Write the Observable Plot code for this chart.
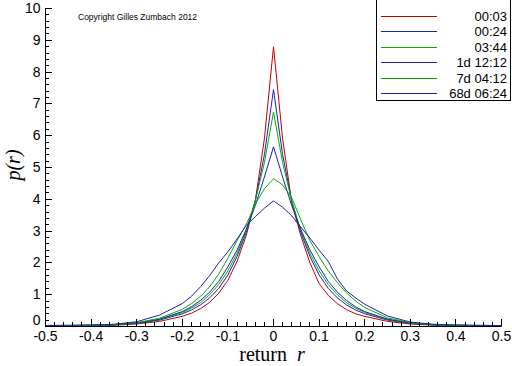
<!DOCTYPE html>
<html><head><meta charset="utf-8">
<script src="https://cdn.jsdelivr.net/npm/d3@7"></script>
<script src="https://cdn.jsdelivr.net/npm/@observablehq/plot@0.6"></script>
<style>body{margin:0;background:#fff}</style>
</head><body><div id="chart"></div>
<script>
const returns = [-0.5,-0.45,-0.4,-0.35,-0.3,-0.25,-0.2,-0.18,-0.16,-0.14,-0.12,-0.1,-0.08,-0.06,-0.04,-0.02,0,0.02,0.04,0.06,0.08,0.1,0.12,0.14,0.16,0.18,0.2,0.25,0.3,0.35,0.4,0.45,0.5];
const seriesNames = ["00:03","00:24","03:44","1d 12:12","7d 04:12","68d 06:24"];
const seriesColors = ["#c00000","#2020b0","#00b000","#2020b0","#00b000","#2020b0"];
const p_0003 = [0.01,0.01,0.02,0.04,0.08,0.16,0.32,0.42,0.56,0.76,1.05,1.45,2.05,2.85,3.95,5.9,8.8,5.9,3.9,2.85,2.0,1.35,0.98,0.72,0.53,0.4,0.32,0.16,0.08,0.04,0.02,0.01,0.01];
const p_0024 = [0.01,0.02,0.03,0.05,0.1,0.2,0.4,0.52,0.68,0.9,1.2,1.62,2.2,2.95,3.95,5.4,7.45,5.4,3.95,2.95,2.2,1.62,1.2,0.9,0.68,0.52,0.4,0.2,0.1,0.05,0.03,0.02,0.01];
const p_0344 = [0.01,0.02,0.03,0.05,0.11,0.22,0.44,0.58,0.75,1.0,1.32,1.75,2.3,3.0,3.95,5.15,6.75,5.15,3.95,3.0,2.3,1.75,1.32,1.0,0.75,0.58,0.44,0.22,0.11,0.05,0.03,0.02,0.01];
const p_1d = [0.02,0.02,0.04,0.06,0.11,0.23,0.47,0.62,0.82,1.08,1.42,1.88,2.4,3.05,3.8,4.7,5.65,4.7,3.8,3.05,2.4,1.88,1.42,1.08,0.82,0.62,0.47,0.23,0.11,0.06,0.04,0.02,0.02];
const p_7d = [0.02,0.03,0.04,0.06,0.12,0.26,0.54,0.72,0.95,1.25,1.65,2.15,2.7,3.2,3.85,4.33,4.65,4.45,4.05,3.35,2.7,2.2,1.75,1.38,1.06,0.8,0.6,0.27,0.12,0.06,0.04,0.03,0.02];
const p_68d = [0.03,0.04,0.05,0.07,0.15,0.36,0.72,0.95,1.25,1.6,2.0,2.35,2.75,3.18,3.45,3.72,3.95,3.75,3.48,3.12,2.78,2.4,2.05,1.5,1.12,0.9,0.7,0.33,0.14,0.07,0.05,0.04,0.03];
const seriesValues = [p_0003,p_0024,p_0344,p_1d,p_7d,p_68d];
const xMajorTicks = [-0.5,-0.4,-0.3,-0.2,-0.1,0,0.1,0.2,0.3,0.4,0.5];
const yMajorTicks = [0,1,2,3,4,5,6,7,8,9,10];
const xMinorTicks = d3.range(-50,51,2).map(d=>d/100);
const yMinorTicks = d3.range(0,51,1).map(d=>d/5);
const copyright = "Copyright Gilles Zumbach 2012";

const rows = [];
seriesNames.forEach((s,i)=>returns.forEach((r,j)=>rows.push({series:s,r,p:seriesValues[i][j]})));

const fmt = d => d===0 ? "0" : (d<0?"-":"") + Math.abs(d).toFixed(1);

const chart = Plot.plot({
  width:512, height:366,
  marginLeft:45, marginRight:11, marginTop:8, marginBottom:40,
  style:{fontFamily:"'Liberation Sans', Arial, sans-serif", background:"#fff", color:"#000"},
  x:{domain:[-0.5,0.5], axis:null},
  y:{domain:[0,10], axis:null},
  color:{domain:seriesNames, range:seriesColors},
  marks:[
    Plot.axisX({ticks:xMajorTicks, tickSize:0, tickPadding:5, tickFormat:fmt, fontSize:14, label:null}),
    Plot.axisY({ticks:yMajorTicks.filter(d=>d!==0), tickSize:0, tickPadding:5, fontSize:14, label:null}),
    Plot.axisY({ticks:[0], tickSize:0, tickPadding:5, dy:-6, fontSize:14, label:null}),
    ...seriesNames.map(s=>Plot.line(rows.filter(d=>d.series===s), {x:"r", y:"p", stroke:"series", strokeWidth:1, curve:"linear"})),
    Plot.ruleY([0], {stroke:"#000"}),
    Plot.ruleX([-0.5], {stroke:"#000"})
  ]
});
document.getElementById("chart").appendChild(chart);

const sx = chart.scale("x"), sy = chart.scale("y");
const svg = d3.select(chart);
const y0 = sy.apply(0), x0 = sx.apply(-0.5);
const tg = svg.append("g").attr("stroke","#000").attr("stroke-width",1);
xMinorTicks.forEach(v=>{
  const X = Math.round(sx.apply(v))+0.5;
  const major = Math.abs(v*10-Math.round(v*10))<1e-6;
  tg.append("line").attr("x1",X).attr("x2",X).attr("y1",y0).attr("y2",y0-(major?7:4));
});
yMinorTicks.forEach(v=>{
  const Y = Math.round(sy.apply(v))+0.5;
  const major = Math.abs(v-Math.round(v))<1e-6;
  tg.append("line").attr("x1",x0).attr("x2",x0+(major?7:4)).attr("y1",Y).attr("y2",Y);
});

// axis titles
const xt = svg.append("text").attr("x",272).attr("y",361).attr("text-anchor","middle")
  .attr("font-family","'Liberation Serif', 'Times New Roman', serif").attr("font-size",20);
xt.append("tspan").text("return  ");
xt.append("tspan").attr("font-style","italic").text("r");
svg.append("text").attr("transform","translate(20,165) rotate(-90)").attr("text-anchor","middle")
  .attr("font-family","'Liberation Serif', 'Times New Roman', serif").attr("font-size",20).attr("font-style","italic")
  .text("p(r)");

svg.append("text").attr("x",78).attr("y",20).attr("font-size",8.5).attr("text-anchor","start")
  .attr("font-family","'Liberation Sans', Arial, sans-serif").text(copyright);

// legend
const lg = svg.append("g");
lg.append("rect").attr("x",376.5).attr("y",-0.5).attr("width",134).attr("height",101)
  .attr("fill","#fff").attr("stroke","#000");
seriesNames.forEach((s,i)=>{
  const Y = 15.5 + i*15.5;
  lg.append("line").attr("x1",381).attr("x2",437).attr("y1",Math.round(Y)+0.5).attr("y2",Math.round(Y)+0.5)
    .attr("stroke",seriesColors[i]).attr("stroke-width",1);
  lg.append("text").attr("x",507).attr("y",Y+5).attr("text-anchor","end").attr("font-size",13)
    .attr("font-family","'Liberation Sans', Arial, sans-serif").text(s);
});
</script></body></html>
